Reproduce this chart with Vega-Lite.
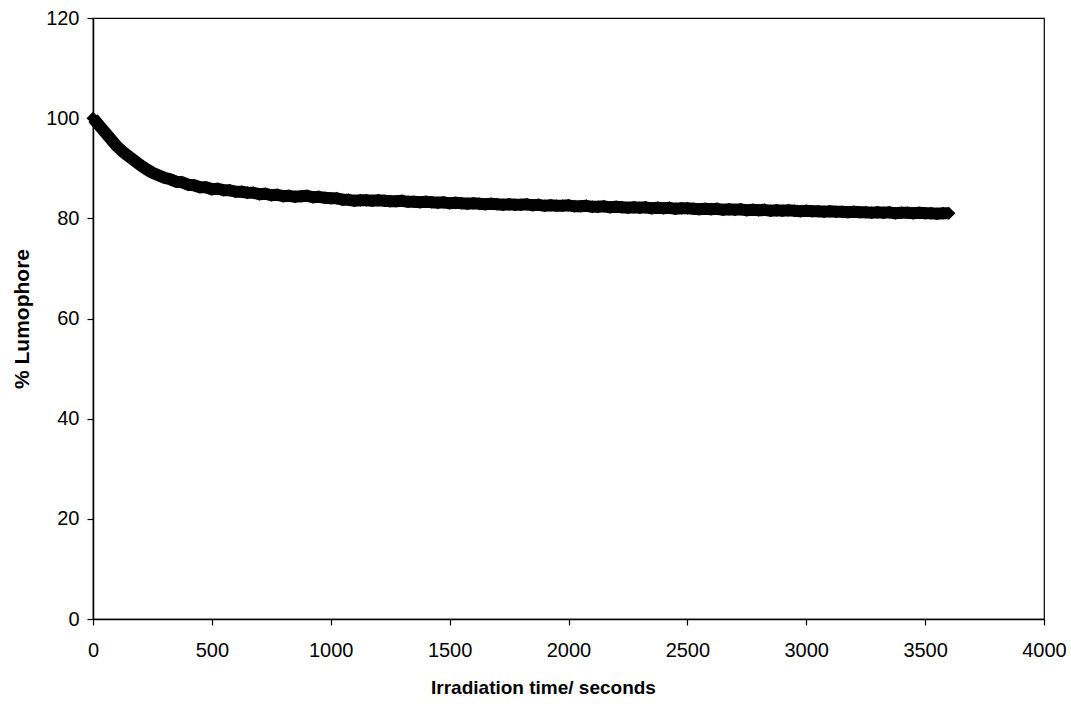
{
  "$schema": "https://vega.github.io/schema/vega-lite/v6.json",
  "width": 951,
  "height": 601,
  "autosize": {"type": "none"},
  "padding": {"left": 93, "top": 18, "right": 27, "bottom": 85},
  "background": "white",
  "config": {
    "view": {"stroke": "black", "strokeWidth": 1.2},
    "font": "Liberation Sans",
    "axis": {
      "grid": false,
      "labelFlush": false,
      "domainColor": "black",
      "domainWidth": 1.5,
      "tickColor": "black",
      "tickWidth": 1.2,
      "tickSize": 6,
      "labelFont": "Liberation Sans",
      "labelFontSize": 20,
      "labelColor": "black",
      "titleFont": "Liberation Sans",
      "titleFontWeight": "bold",
      "titleColor": "black"
    }
  },
  "data": {
    "values": [
      {"t":0,"v":100},{"t":25,"v":98.6},{"t":50,"v":97.2},{"t":75,"v":95.8},{"t":100,"v":94.4},{"t":125,"v":93.3},{"t":150,"v":92.4},{"t":175,"v":91.5},{"t":200,"v":90.6},{"t":225,"v":89.8},{"t":250,"v":89.1},{"t":275,"v":88.6},{"t":300,"v":88.1},{"t":325,"v":87.8},{"t":350,"v":87.3},{"t":375,"v":87.2},{"t":400,"v":86.7},{"t":425,"v":86.6},{"t":450,"v":86.2},{"t":475,"v":86.2},{"t":500,"v":85.8},{"t":525,"v":85.9},{"t":550,"v":85.6},{"t":575,"v":85.6},{"t":600,"v":85.3},{"t":625,"v":85.3},{"t":650,"v":85.1},{"t":675,"v":85.1},{"t":700,"v":84.8},{"t":725,"v":84.9},{"t":750,"v":84.6},{"t":775,"v":84.7},{"t":800,"v":84.4},{"t":825,"v":84.5},{"t":850,"v":84.3},{"t":875,"v":84.4},{"t":900,"v":84.5},{"t":925,"v":84.2},{"t":950,"v":84.3},{"t":975,"v":84.1},{"t":1000,"v":84.0},{"t":1025,"v":84.0},{"t":1050,"v":83.7},{"t":1075,"v":83.7},{"t":1100,"v":83.5},{"t":1125,"v":83.6},{"t":1150,"v":83.6},{"t":1175,"v":83.5},{"t":1200,"v":83.6},{"t":1225,"v":83.5},{"t":1250,"v":83.4},{"t":1275,"v":83.4},{"t":1300,"v":83.5},{"t":1325,"v":83.3},{"t":1350,"v":83.3},{"t":1375,"v":83.2},{"t":1400,"v":83.3},{"t":1425,"v":83.2},{"t":1450,"v":83.1},{"t":1475,"v":83.2},{"t":1500,"v":83.0},{"t":1525,"v":83.1},{"t":1550,"v":83.0},{"t":1575,"v":82.9},{"t":1600,"v":83.0},{"t":1625,"v":82.9},{"t":1650,"v":82.8},{"t":1675,"v":82.9},{"t":1700,"v":82.8},{"t":1725,"v":82.7},{"t":1750,"v":82.8},{"t":1775,"v":82.7},{"t":1800,"v":82.7},{"t":1825,"v":82.8},{"t":1850,"v":82.6},{"t":1875,"v":82.7},{"t":1900,"v":82.5},{"t":1925,"v":82.6},{"t":1950,"v":82.5},{"t":1975,"v":82.5},{"t":2000,"v":82.6},{"t":2025,"v":82.4},{"t":2050,"v":82.4},{"t":2075,"v":82.5},{"t":2100,"v":82.3},{"t":2125,"v":82.3},{"t":2150,"v":82.4},{"t":2175,"v":82.2},{"t":2200,"v":82.3},{"t":2225,"v":82.2},{"t":2250,"v":82.1},{"t":2275,"v":82.2},{"t":2300,"v":82.1},{"t":2325,"v":82.2},{"t":2350,"v":82.0},{"t":2375,"v":82.1},{"t":2400,"v":82.0},{"t":2425,"v":82.1},{"t":2450,"v":81.9},{"t":2475,"v":82.0},{"t":2500,"v":82.0},{"t":2525,"v":81.9},{"t":2550,"v":81.8},{"t":2575,"v":81.9},{"t":2600,"v":81.8},{"t":2625,"v":81.9},{"t":2650,"v":81.7},{"t":2675,"v":81.8},{"t":2700,"v":81.7},{"t":2725,"v":81.8},{"t":2750,"v":81.6},{"t":2775,"v":81.7},{"t":2800,"v":81.6},{"t":2825,"v":81.7},{"t":2850,"v":81.5},{"t":2875,"v":81.6},{"t":2900,"v":81.5},{"t":2925,"v":81.6},{"t":2950,"v":81.5},{"t":2975,"v":81.4},{"t":3000,"v":81.5},{"t":3025,"v":81.4},{"t":3050,"v":81.4},{"t":3075,"v":81.3},{"t":3100,"v":81.4},{"t":3125,"v":81.3},{"t":3150,"v":81.3},{"t":3175,"v":81.2},{"t":3200,"v":81.3},{"t":3225,"v":81.2},{"t":3250,"v":81.2},{"t":3275,"v":81.1},{"t":3300,"v":81.2},{"t":3325,"v":81.1},{"t":3350,"v":81.2},{"t":3375,"v":81.0},{"t":3400,"v":81.1},{"t":3425,"v":81.1},{"t":3450,"v":81.0},{"t":3475,"v":81.1},{"t":3500,"v":81.0},{"t":3525,"v":81.0},{"t":3550,"v":80.9},{"t":3575,"v":81.0},{"t":3600,"v":81.0}
    ]
  },
  "encoding": {
    "x": {
      "field": "t", "type": "quantitative",
      "scale": {"domain": [0, 4000], "nice": false},
      "axis": {"values": [0,500,1000,1500,2000,2500,3000,3500,4000], "format": "d", "title": "Irradiation time/ seconds", "titleFontSize": 19, "labelPadding": 15, "titlePadding": 18, "titleX": 450}
    },
    "y": {
      "field": "v", "type": "quantitative",
      "scale": {"domain": [0, 120], "nice": false},
      "axis": {"values": [0,20,40,60,80,100,120], "format": "d", "title": "% Lumophore", "titleFontSize": 21, "labelPadding": 8, "titlePadding": 13}
    }
  },
  "layer": [
    {"mark": {"type": "line", "color": "black", "strokeWidth": 12, "strokeJoin": "round"}},
    {"mark": {"type": "point", "shape": "diamond", "filled": true, "color": "black", "opacity": 1, "size": 170}}
  ]
}
